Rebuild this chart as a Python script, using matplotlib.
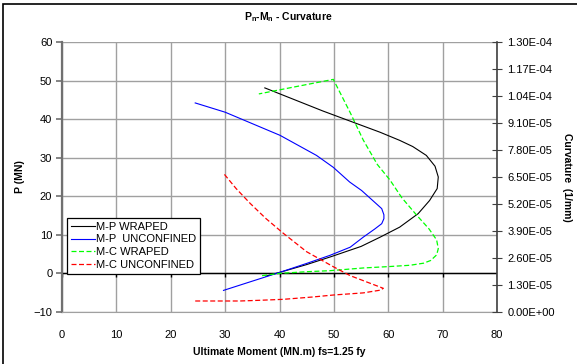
import numpy as np
import matplotlib
matplotlib.use('Agg')
from matplotlib import pyplot as plt
from matplotlib.ticker import FuncFormatter, MultipleLocator
from matplotlib.patches import Rectangle

plt.rcParams['font.family'] = 'Liberation Sans'
plt.rcParams['mathtext.fontset'] = 'custom'
plt.rcParams['mathtext.rm'] = 'Liberation Sans'
plt.rcParams['mathtext.bf'] = 'Liberation Sans:bold'

### data
# M-P wraped (left axis)
mpw_M = [37.5, 40.1, 45.0, 49.6, 55.0, 58.5, 62.1, 65.5, 67.6, 69.0, 69.2, 68.6, 67.0, 64.5, 62.1, 58.5, 48.0, 37.3]
mpw_P = [-0.7, 0.3, 2.3, 4.4, 7.0, 9.4, 12.0, 15.5, 18.9, 22.0, 25.0, 27.8, 30.6, 32.9, 34.5, 36.6, 42.1, 48.1]
# M-P unconfined (left axis)
mpu_M = [29.7, 35.0, 40.1, 45.0, 49.3, 53.0, 55.4, 57.5, 58.8, 59.2, 59.2, 58.8, 55.1, 52.9, 49.9, 46.8, 40.1, 30.0, 24.5]
mpu_P = [-4.4, -2.0, 0.3, 2.6, 4.7, 6.8, 9.4, 11.5, 12.9, 14.2, 15.2, 16.8, 21.5, 23.7, 27.5, 30.6, 35.8, 41.8, 44.2]
# M-C wraped (right axis)
mcw_M = [36.8, 40.0, 45.0, 49.3, 55.4, 60.3, 64.0, 66.5, 67.8, 68.9, 69.2, 68.9, 67.5, 65.2, 62.5, 60.3, 58.0, 55.4, 53.0, 49.9, 43.0, 36.2]
mcw_C = [1.75e-5, 1.86e-5, 1.94e-5, 1.99e-5, 2.12e-5, 2.19e-5, 2.25e-5, 2.35e-5, 2.48e-5, 2.75e-5, 3.05e-5,
         3.47e-5, 4.0e-5, 4.67e-5, 5.5e-5, 6.36e-5, 7.1e-5, 8.28e-5, 9.6e-5, 1.12e-4, 1.085e-4, 1.05e-4]
# M-C unconfined (right axis)
mcu_M = [24.5, 32.7, 36.0, 40.7, 46.0, 50.0, 55.4, 58.5, 59.1, 57.0, 53.0, 49.9, 45.0, 40.7, 37.5, 34.6, 32.0, 29.7]
mcu_C = [5.3e-6, 5.3e-6, 5.6e-6, 6.1e-6, 7.2e-6, 8.2e-6, 9.2e-6, 1.05e-5, 1.14e-5, 1.35e-5, 1.75e-5, 2.18e-5,
         2.9e-5, 3.79e-5, 4.5e-5, 5.23e-5, 5.95e-5, 6.68e-5]

### plot
fig = plt.figure(figsize=(5.77, 3.64), dpi=100, facecolor='white')
ax = fig.add_axes([62/577, 52/364, 435/577, 270/364])
ax2 = ax.twinx()

ax.set_xlim(0, 80)
ax.set_ylim(-10, 60)
ax2.set_ylim(0, 1.3e-4)
ax.xaxis.set_major_locator(MultipleLocator(10))
ax.yaxis.set_major_locator(MultipleLocator(10))
ax2.yaxis.set_major_locator(MultipleLocator(1.3e-5))
ax2.yaxis.set_major_formatter(FuncFormatter(lambda v, p: '{:.2E}'.format(v)))

ax.grid(True, color='#a0a0a0', lw=1)
ax.axhline(0, color='black', lw=1, zorder=2)
ax.vlines(ax.get_xticks(), -0.9, 0, color='black', lw=1, zorder=2)

for s in ['top', 'right']:
    ax.spines[s].set_visible(False)
ax.spines['bottom'].set_color('#a0a0a0')
ax.spines['left'].set_color('#707070')
ax.spines['left'].set_linewidth(1.6)
for s in ['top', 'left', 'bottom']:
    ax2.spines[s].set_visible(False)
ax2.spines['right'].set_color('#404040')
ax2.spines['right'].set_linewidth(1.2)

ax.tick_params(axis='x', length=0, labelsize=8, pad=13)
ax.tick_params(axis='y', length=4, color='#707070', width=1.2, labelsize=8, pad=3)
ax2.tick_params(axis='y', direction='inout', length=7, color='#404040', labelsize=8, pad=4)

l1, = ax.plot(mpw_M, mpw_P, color='black', lw=0.8, label='M-P WRAPED')
l2, = ax.plot(mpu_M, mpu_P, color='#0000ff', lw=0.8, label='M-P  UNCONFINED')
l3, = ax2.plot(mcw_M, mcw_C, color='#00ff00', lw=0.9, ls=(0, (4, 2)), label='M-C WRAPED')
l4, = ax2.plot(mcu_M, mcu_C, color='#ff0000', lw=0.9, ls=(0, (4, 2)), label='M-C UNCONFINED')

ax.set_xlabel('Ultimate Moment (MN.m) fs=1.25 fy', fontsize=7.5, fontweight='bold', labelpad=5)
ax.set_ylabel('P (MN)', fontsize=7.5, fontweight='bold', labelpad=6)
ax2.set_ylabel('Curvature  (1/mm)', fontsize=7.5, fontweight='bold', rotation=-90, labelpad=12)
fig.text(0.5, 1 - 17/364, r'P$_{\mathbf{n}}$-M$_{\mathbf{n}}$ - Curvature', fontsize=7.5,
         fontweight='bold', ha='center', va='center')

leg = ax2.legend(handles=[l1, l2, l3, l4], loc='lower left', bbox_to_anchor=(0.0115, 0.141),
                 borderaxespad=0, fontsize=8, frameon=True, fancybox=False, framealpha=1,
                 edgecolor='black', handlelength=2.2, handletextpad=0.1, labelspacing=0.25,
                 borderpad=0.35)
leg.get_frame().set_linewidth(0.9)

# chart border
fig.patches.append(Rectangle((3/577, -0.1), 1.2, 1.1 - 4/364 + 0.0, transform=fig.transFigure,
                             fill=False, edgecolor='black', lw=1.2))

fig.savefig('out.png', dpi=100)
